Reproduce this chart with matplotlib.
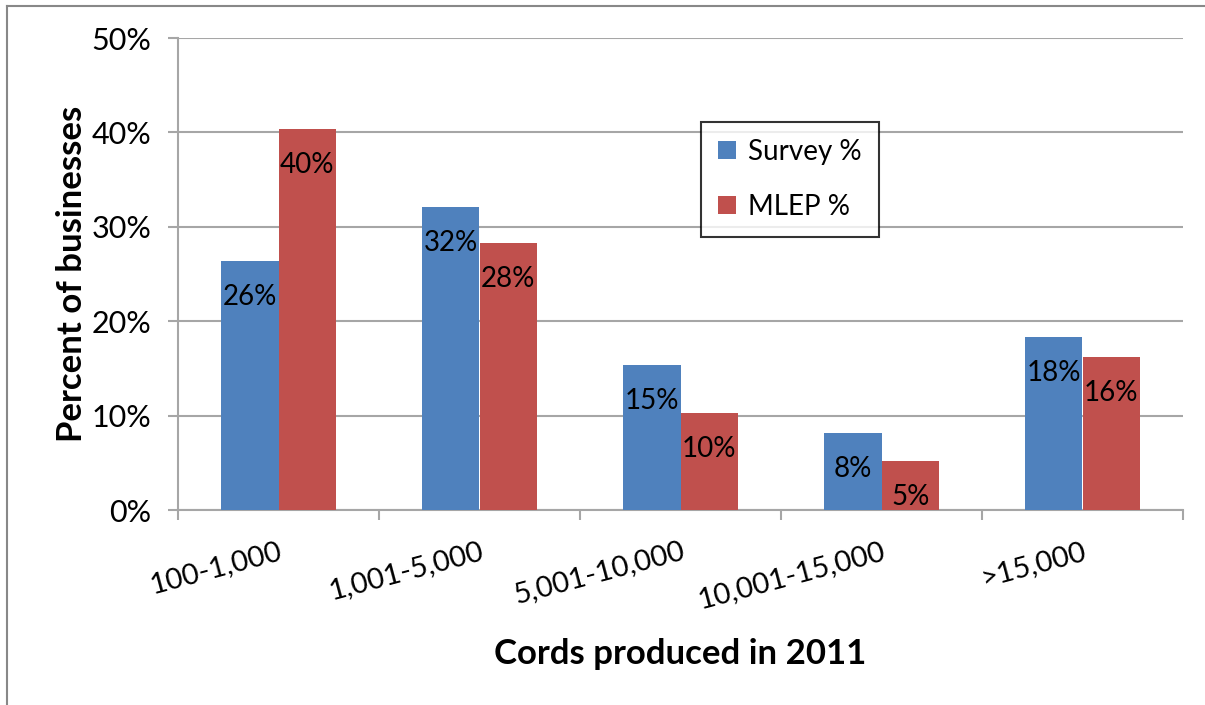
import matplotlib.pyplot as plt
import numpy as np
from matplotlib.lines import Line2D

plt.rcParams['font.family'] = ['Lato', 'DejaVu Sans']

categories = ["100-1,000", "1,001-5,000", "5,001-10,000", "10,001-15,000", ">15,000"]
survey_pct = [26.4, 32.1, 15.4, 8.2, 18.3]
mlep_pct = [40.4, 28.3, 10.3, 5.2, 16.2]

BLUE = "#4F81BD"
RED = "#C0504D"
GRID = "#A6A6A6"

fig = plt.figure(figsize=(12.05, 7.05), dpi=100)
ax = fig.add_axes([178 / 1205, 1 - 510 / 705, 1005 / 1205, 472 / 705])

x = np.arange(len(categories))
w = 1 / 3.5  # two bars plus a 150% gap
b1 = ax.bar(x - w / 2, survey_pct, width=w, color=BLUE, label="Survey %", zorder=3)
b2 = ax.bar(x + w / 2, mlep_pct, width=w, color=RED, label="MLEP %", zorder=3)

for bars in (b1, b2):
    for rect in bars:
        v = rect.get_height()
        ax.annotate(f"{v:.0f}%", (rect.get_x() + rect.get_width() / 2, v),
                    xytext=(0, -36), textcoords="offset pixels",
                    ha="center", va="center", fontsize=20, color="black", zorder=4)

ax.set_xlim(-0.5, len(categories) - 0.5)
ax.set_ylim(0, 50)
ax.set_yticks(np.arange(0, 51, 10))
ax.set_yticklabels([f"{t}%" for t in range(0, 51, 10)], fontsize=22)
ax.yaxis.grid(True, color=GRID, linewidth=1.5, zorder=0)

# category ticks sit on the group boundaries, names under the group centres
ax.set_xticks(np.arange(-0.5, len(categories), 1.0))
ax.set_xticklabels([])
ax.set_xticks(x, minor=True)
ax.set_xticklabels(categories, minor=True, rotation=15, fontsize=21,
                   ha="right", rotation_mode="anchor")
ax.tick_params(axis="x", which="minor", length=0, pad=20)
ax.tick_params(axis="x", which="major", length=7, width=1.5, color=GRID)
ax.tick_params(axis="y", length=7, width=1.5, color=GRID, pad=12)

for side in ("top", "right"):
    ax.spines[side].set_visible(False)
for side in ("left", "bottom"):
    ax.spines[side].set_color(GRID)
    ax.spines[side].set_linewidth(1.5)

ax.set_ylabel("Percent of businesses", fontsize=25, fontweight="bold", labelpad=3)
ax.set_xlabel("Cords produced in 2011", fontsize=25, fontweight="bold", labelpad=18)

leg = ax.legend(loc="upper left", bbox_to_anchor=((701 - 178) / 1005, (510 - 122) / 472),
                borderaxespad=0, fontsize=20, frameon=True, fancybox=False,
                edgecolor="black", handlelength=0.65, handleheight=0.65,
                labelspacing=1.05, borderpad=0.6, handletextpad=0.45)
leg.get_frame().set_linewidth(1.5)

# outer chart border (left and top edges)
fig.add_artist(Line2D([7 / 1205, 7 / 1205], [0, 1 - 6 / 705], color="#888888", linewidth=1.5,
                      transform=fig.transFigure))
fig.add_artist(Line2D([7 / 1205, 1], [1 - 6 / 705, 1 - 6 / 705], color="#888888", linewidth=1.5,
                      transform=fig.transFigure))

fig.savefig("out.png", dpi=100)
